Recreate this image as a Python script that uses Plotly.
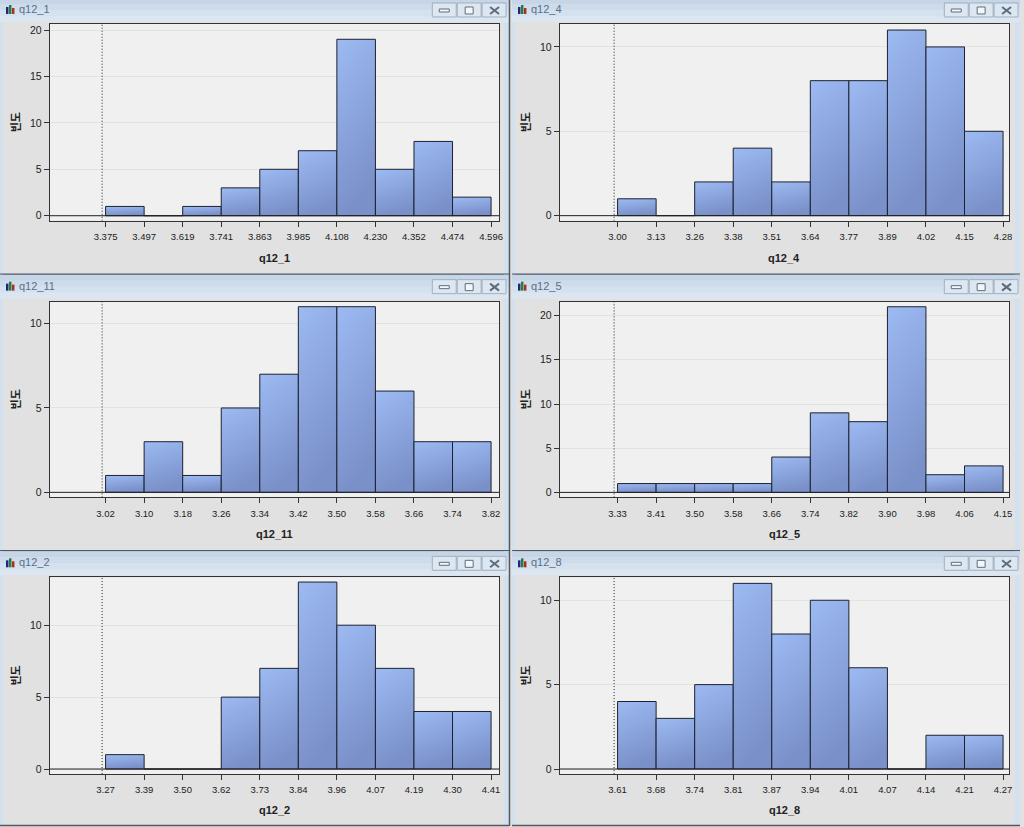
import plotly.graph_objects as go

titles = ["q12_1", "q12_4", "q12_11", "q12_5", "q12_2", "q12_8"]
counts = {
    "q12_1": [1, 0, 1, 3, 5, 7, 19, 5, 8, 2],
    "q12_4": [1, 0, 2, 4, 2, 8, 8, 11, 10, 5],
    "q12_11": [1, 3, 1, 5, 7, 11, 11, 6, 3, 3],
    "q12_5": [1, 1, 1, 1, 4, 9, 8, 21, 2, 3],
    "q12_2": [1, 0, 0, 5, 7, 13, 10, 7, 4, 4],
    "q12_8": [4, 3, 5, 11, 8, 10, 6, 0, 2, 2],
}
ticks = {
    "q12_1": ["3.375", "3.497", "3.619", "3.741", "3.863", "3.985", "4.108", "4.230", "4.352", "4.474", "4.596"],
    "q12_4": ["3.00", "3.13", "3.26", "3.38", "3.51", "3.64", "3.77", "3.89", "4.02", "4.15", "4.28"],
    "q12_11": ["3.02", "3.10", "3.18", "3.26", "3.34", "3.42", "3.50", "3.58", "3.66", "3.74", "3.82"],
    "q12_5": ["3.33", "3.41", "3.50", "3.58", "3.66", "3.74", "3.82", "3.90", "3.98", "4.06", "4.15"],
    "q12_2": ["3.27", "3.39", "3.50", "3.62", "3.73", "3.84", "3.96", "4.07", "4.19", "4.30", "4.41"],
    "q12_8": ["3.61", "3.68", "3.74", "3.81", "3.87", "3.94", "4.01", "4.07", "4.14", "4.21", "4.27"],
}
y_ticks = {
    "q12_1": [0, 5, 10, 15, 20], "q12_4": [0, 5, 10], "q12_11": [0, 5, 10],
    "q12_5": [0, 5, 10, 15, 20], "q12_2": [0, 5, 10], "q12_8": [0, 5, 10],
}
y_range = {
    "q12_1": [-0.54, 20.65], "q12_4": [-0.3, 11.36], "q12_11": [-0.3, 11.3],
    "q12_5": [-0.565, 21.58], "q12_2": [-0.35, 13.33], "q12_8": [-0.3, 11.36],
}

W, H = 1024, 827
col_x = [(50, 501), (562, 1013)]
row_y = [(24, 221), (302, 498), (578, 775)]
win_x = [(0, 511), (514, 1024)]
win_y = [(0, 275), (277, 552), (554, 827)]
axis_title_y = [258, 535, 811]
x_offset = [56, 58]
STEP = 38.7

fx = lambda p: p / W
fy = lambda p: 1 - p / H

fig = go.Figure()
shapes, annos = [], []


def rect(x0, y0, x1, y1, fill, line=None, lw=1):
    shapes.append(dict(type="rect", xref="paper", yref="paper", layer="below",
                       x0=fx(x0), x1=fx(x1), y0=fy(y0), y1=fy(y1), fillcolor=fill,
                       line=dict(color=line or "rgba(0,0,0,0)", width=lw if line else 0)))


def seg(x0, y0, x1, y1, col, lw=1):
    shapes.append(dict(type="line", xref="paper", yref="paper", layer="below",
                       x0=fx(x0), x1=fx(x1), y0=fy(y0), y1=fy(y1),
                       line=dict(color=col, width=lw)))


for i, name in enumerate(titles):
    c, r = i % 2, i // 2
    n = i + 1
    xa, ya = f"xaxis{n}", f"yaxis{n}"
    px0, px1 = col_x[c]
    py0, py1 = row_y[r]
    wx0, wx1 = win_x[c]
    wy0, wy1 = win_y[r]
    # window chrome: side frames and a stepped title-bar gradient
    rect(wx0, wy0 - 2, wx0 + 3, wy1, "#d3e0ee")
    rect(wx1 - 5, wy0 - 2, wx1, wy1, "#d3e0ee")
    for k, col in enumerate(("#c6d6e7", "#cddbea", "#d4e1ee", "#dbe6f1")):
        rect(wx0, wy0 - 2 + k * 6, wx1, wy0 + 4 + k * 6, col)
    seg(wx0, wy1 - 0.5, wx1, wy1 - 0.5, "#4f5a66", 1.5)
    off = wx0 + 434
    for b in range(3):
        rect(off + b * 25, wy0 + 3, off + b * 25 + 24, wy0 + 17, "#dde7f1", "#9fb0c2", 1)
    rect(off + 7, wy0 + 9, off + 17, wy0 + 12, "#f4f6f8", "#5f6d7b", 1)
    rect(off + 33, wy0 + 7, off + 41, wy0 + 14, "#f4f6f8", "#5f6d7b", 1)
    seg(off + 58, wy0 + 7, off + 67, wy0 + 14, "#5f6d7b", 2)
    seg(off + 58, wy0 + 14, off + 67, wy0 + 7, "#5f6d7b", 2)
    for k, (h, col) in enumerate(((7, "#1a2a80"), (9, "#2f7a3a"), (6, "#a83020"))):
        rect(wx0 + 6 + k * 3, wy0 + 14 - h, wx0 + 8.5 + k * 3, wy0 + 14, col)
    annos.append(dict(text=name, xref="paper", yref="paper", x=fx(wx0 + 17), y=fy(wy0 + 9),
                      xanchor="left", yanchor="middle", showarrow=False,
                      font=dict(family="Liberation Sans", size=11, color="#56708c")))
    annos.append(dict(text=f"<b>{name}</b>", xref="paper", yref="paper",
                      x=fx((px0 + px1) / 2), y=fy(axis_title_y[r]),
                      xanchor="center", yanchor="middle", showarrow=False,
                      font=dict(family="Liberation Sans", size=11, color="#222222")))
    annos.append(dict(text="<b>빈도</b>", xref="paper", yref="paper", x=fx(px0 - 35),
                      y=fy((py0 + py1) / 2),
                      xanchor="center", yanchor="middle", showarrow=False, textangle=-90,
                      font=dict(family="Noto Sans CJK KR", size=11, color="#222222")))

    lo = -x_offset[c] / STEP
    hi = lo + (px1 - px0) / STEP
    fig.add_trace(go.Bar(
        x=[k + 0.5 for k in range(10)], y=counts[name], width=1,
        marker=dict(color="#8ba5de", line=dict(color="#1c2230", width=1)),
        xaxis=f"x{n}", yaxis=f"y{n}", showlegend=False, name=name))
    fig.add_trace(go.Scatter(
        x=[lo, hi], y=[0, 0], mode="lines", line=dict(color="#222222", width=1),
        xaxis=f"x{n}", yaxis=f"y{n}", showlegend=False, hoverinfo="skip"))
    fig.add_trace(go.Scatter(
        x=[-0.09, -0.09], y=y_range[name], mode="lines",
        line=dict(color="#222222", width=1, dash="1px,2px"),
        xaxis=f"x{n}", yaxis=f"y{n}", showlegend=False, hoverinfo="skip"))
    fig.layout[xa] = dict(
        domain=[fx(px0), fx(px1)], range=[lo, hi], anchor=f"y{n}",
        tickmode="array", tickvals=list(range(11)), ticktext=ticks[name],
        ticks="outside", ticklen=5, tickcolor="#333333", showgrid=False, zeroline=False,
        showline=True, linecolor="#333333", linewidth=1, mirror=True, ticklabelstandoff=2,
        tickfont=dict(family="Liberation Sans", size=9.5, color="#222222"), tickangle=0)
    fig.layout[ya] = dict(
        domain=[fy(py1), fy(py0)], range=y_range[name], anchor=f"x{n}",
        tickmode="array", tickvals=y_ticks[name],
        ticks="outside", ticklen=5, tickcolor="#333333", showgrid=True, gridcolor="#e2e2e2",
        gridwidth=1, zeroline=False, showline=True, linecolor="#333333", linewidth=1, mirror=True,
        tickfont=dict(family="Liberation Sans", size=10.5, color="#222222"))

seg(511.5, 0, 511.5, H, "#4f5a66", 1.5)

fig.update_layout(
    width=W, height=H, margin=dict(l=0, r=0, t=0, b=0), autosize=False,
    paper_bgcolor="#e1e1e1", plot_bgcolor="#f0f0f0", barmode="overlay",
    shapes=shapes, annotations=annos, showlegend=False, hovermode=False,
)

post = """
document.body.style.margin = '0';
document.body.style.overflow = 'hidden';
var gd = document.getElementById('{plot_id}');
var svg = gd.querySelector('svg.main-svg');
var ns = 'http://www.w3.org/2000/svg';
var defs = document.createElementNS(ns, 'defs');
var g = document.createElementNS(ns, 'linearGradient');
g.setAttribute('id', 'barGrad');
g.setAttribute('x1', '0'); g.setAttribute('y1', '0');
g.setAttribute('x2', '0.25'); g.setAttribute('y2', '1');
[['0%', '#9dbaf2'], ['100%', '#7a90c9']].forEach(function (s) {
  var st = document.createElementNS(ns, 'stop');
  st.setAttribute('offset', s[0]); st.setAttribute('stop-color', s[1]);
  g.appendChild(st);
});
defs.appendChild(g); svg.insertBefore(defs, svg.firstChild);
gd.querySelectorAll('.bars .point path').forEach(function (p) {
  p.style.fill = 'url(#barGrad)';
});
"""
fig.write_html("out.html", post_script=post, config=dict(displayModeBar=False))
